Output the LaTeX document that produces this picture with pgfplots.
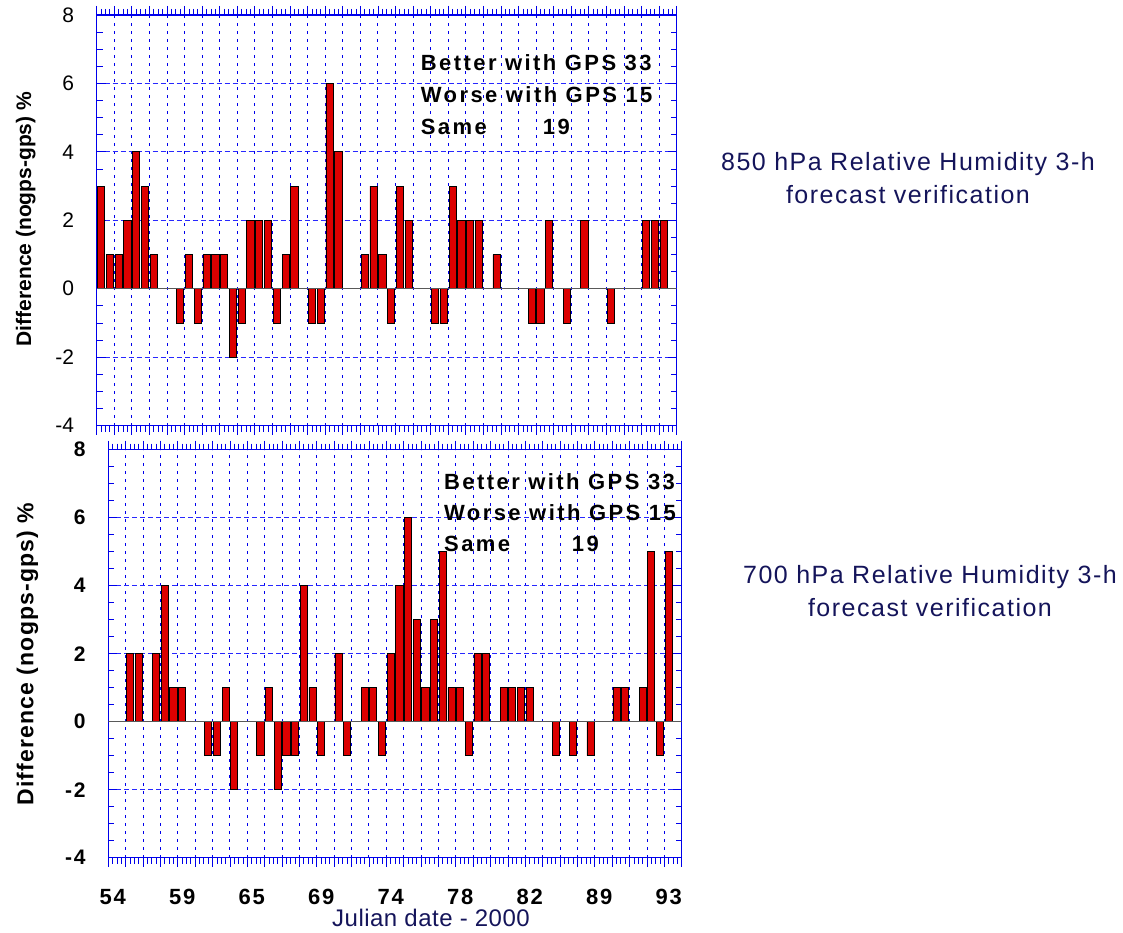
\documentclass[border=0pt]{standalone}
\usepackage{pgfplots}
\pgfplotsset{compat=1.18}
\usepackage{fontspec}
\setmainfont{Liberation Sans}
\newfontfamily\annfont[LetterSpace=11]{Liberation Sans}
\newfontfamily\tickbold[LetterSpace=8]{Liberation Sans}
\newfontfamily\labfontA{Liberation Sans}
\newfontfamily\labfontB[LetterSpace=5]{Liberation Sans}
\newfontfamily\navyfont[LetterSpace=6]{Liberation Sans}
\newfontfamily\julfont[LetterSpace=2]{Liberation Sans}
\definecolor{barred}{RGB}{220,0,0}
\definecolor{navy}{RGB}{20,20,90}
\definecolor{frameblue}{RGB}{0,0,235}
\definecolor{gridblue}{RGB}{0,0,235}
\definecolor{hgridblue}{RGB}{40,40,255}

\pgfplotsset{myax/.style={
  scale only axis, anchor=south west,
  xmin=-0.5, xmax=65.5, ymin=-4, ymax=8,
  axis line style={draw=frameblue, line width=1.2bp},
  tick style={draw=frameblue, line width=0.8bp},
  major tick length=9bp, minor tick length=6bp,
  tick align=inside, xtick pos=both, ytick pos=both,
  xtick={-0.5,1.5,...,65.5}, xticklabels={}, minor x tick num=3,
  ytick={-4,-2,...,8}, minor y tick num=3,
  xmajorgrids, ymajorgrids,
  grid style={draw=gridblue, line width=0.9bp},
  x grid style={draw=gridblue, line width=0.9bp, dash pattern=on 3bp off 5bp},
  y grid style={draw=hgridblue, line width=1.1bp, dash pattern=on 5bp off 3bp},
  ybar, bar width=0.82,
  /pgf/number format/assume math mode=true,
}}

\begin{document}
\begin{tikzpicture}[x=1bp,y=1bp]
\path (0,0) rectangle (1123,933);

% ---------- top panel (850 hPa) ----------
\begin{axis}[myax,
  at={(96.7bp,507.4bp)}, width=580bp, height=410.6bp,
  yticklabel style={anchor=east, inner sep=0pt, xshift=-22.5bp, font=\labfontA\fontsize{21bp}{21bp}\selectfont},
]
\addplot[fill=barred, draw=black, line width=0.8bp] coordinates {
(0,3)(1,1)(2,1)(3,2)(4,4)(5,3)(6,1)
(9,-1)(10,1)(11,-1)(12,1)(13,1)(14,1)(15,-2)(16,-1)(17,2)(18,2)(19,2)
(20,-1)(21,1)(22,3)(24,-1)(25,-1)(26,6)(27,4)
(30,1)(31,3)(32,1)(33,-1)(34,3)(35,2)(38,-1)(39,-1)
(40,3)(41,2)(42,2)(43,2)(45,1)(49,-1)
(50,-1)(51,2)(53,-1)(55,2)(58,-1)
(62,2)(63,2)(64,2)
};
\draw[gray!70!black, line width=1bp] (axis cs:-0.5,0) -- (axis cs:65.5,0);
\end{axis}

% ---------- bottom panel (700 hPa) ----------
\begin{axis}[myax,
  at={(108.3bp,75.3bp)}, width=573.4bp, height=408bp,
  yticklabel style={anchor=east, inner sep=0pt, xshift=-22.5bp, font=\tickbold\bfseries\fontsize{21bp}{21bp}\selectfont},
  extra x ticks={0,8,...,64},
  extra x tick labels={54,59,65,69,74,78,82,89,93},
  extra x tick style={grid=none, major tick length=0pt},
  xticklabel style={anchor=north, inner sep=0pt, yshift=-31bp, font=\tickbold\bfseries\fontsize{22bp}{22bp}\selectfont},
]
\addplot[fill=barred, draw=black, line width=0.8bp] coordinates {
(2,2)(3,2)(5,2)(6,4)(7,1)(8,1)
(11,-1)(12,-1)(13,1)(14,-2)(17,-1)(18,1)(19,-2)
(20,-1)(21,-1)(22,4)(23,1)(24,-1)(26,2)(27,-1)(29,1)
(30,1)(31,-1)(32,2)(33,4)(34,6)(35,3)(36,1)(37,3)(38,5)(39,1)
(40,1)(41,-1)(42,2)(43,2)(45,1)(46,1)(47,1)(48,1)
(51,-1)(53,-1)(55,-1)(58,1)(59,1)
(61,1)(62,5)(63,-1)(64,5)
};
\draw[gray!70!black, line width=1bp] (axis cs:-0.5,0) -- (axis cs:65.5,0);
\end{axis}

% ---------- annotations ----------
\begin{scope}[every node/.style={inner sep=0pt, anchor=base west, text=black, font=\annfont\bfseries\fontsize{22bp}{22bp}\selectfont}]
\node at (420.7,862) {Better with GPS 33};
\node at (420.7,830) {Worse with GPS 15};
\node at (420.7,798) {Same};
\node at (542.7,798) {19};
\node at (444,443.4) {Better with GPS 33};
\node at (444,412.4) {Worse with GPS 15};
\node at (444,381.8) {Same};
\node at (571.7,381.8) {19};
\end{scope}

\begin{scope}[every node/.style={inner sep=0pt, anchor=base, text=navy, font=\navyfont\fontsize{25bp}{25bp}\selectfont}]
\node at (908,762) {850 hPa Relative Humidity 3-h};
\node at (908,729) {forecast verification};
\node at (930,349) {700 hPa Relative Humidity 3-h};
\node at (930,316) {forecast verification};
\node[font=\julfont\fontsize{24bp}{24bp}\selectfont] at (431,6.3) {Julian date - 2000};
\end{scope}

\node[rotate=90, anchor=base, inner sep=0pt, font=\labfontA\bfseries\fontsize{21bp}{21bp}\selectfont] at (31,714) {Difference (nogps-gps) \%};
\node[rotate=90, anchor=base, inner sep=0pt, font=\labfontB\bfseries\fontsize{23bp}{23bp}\selectfont] at (33.3,279) {Difference (nogps-gps) \%};
\end{tikzpicture}
\end{document}
